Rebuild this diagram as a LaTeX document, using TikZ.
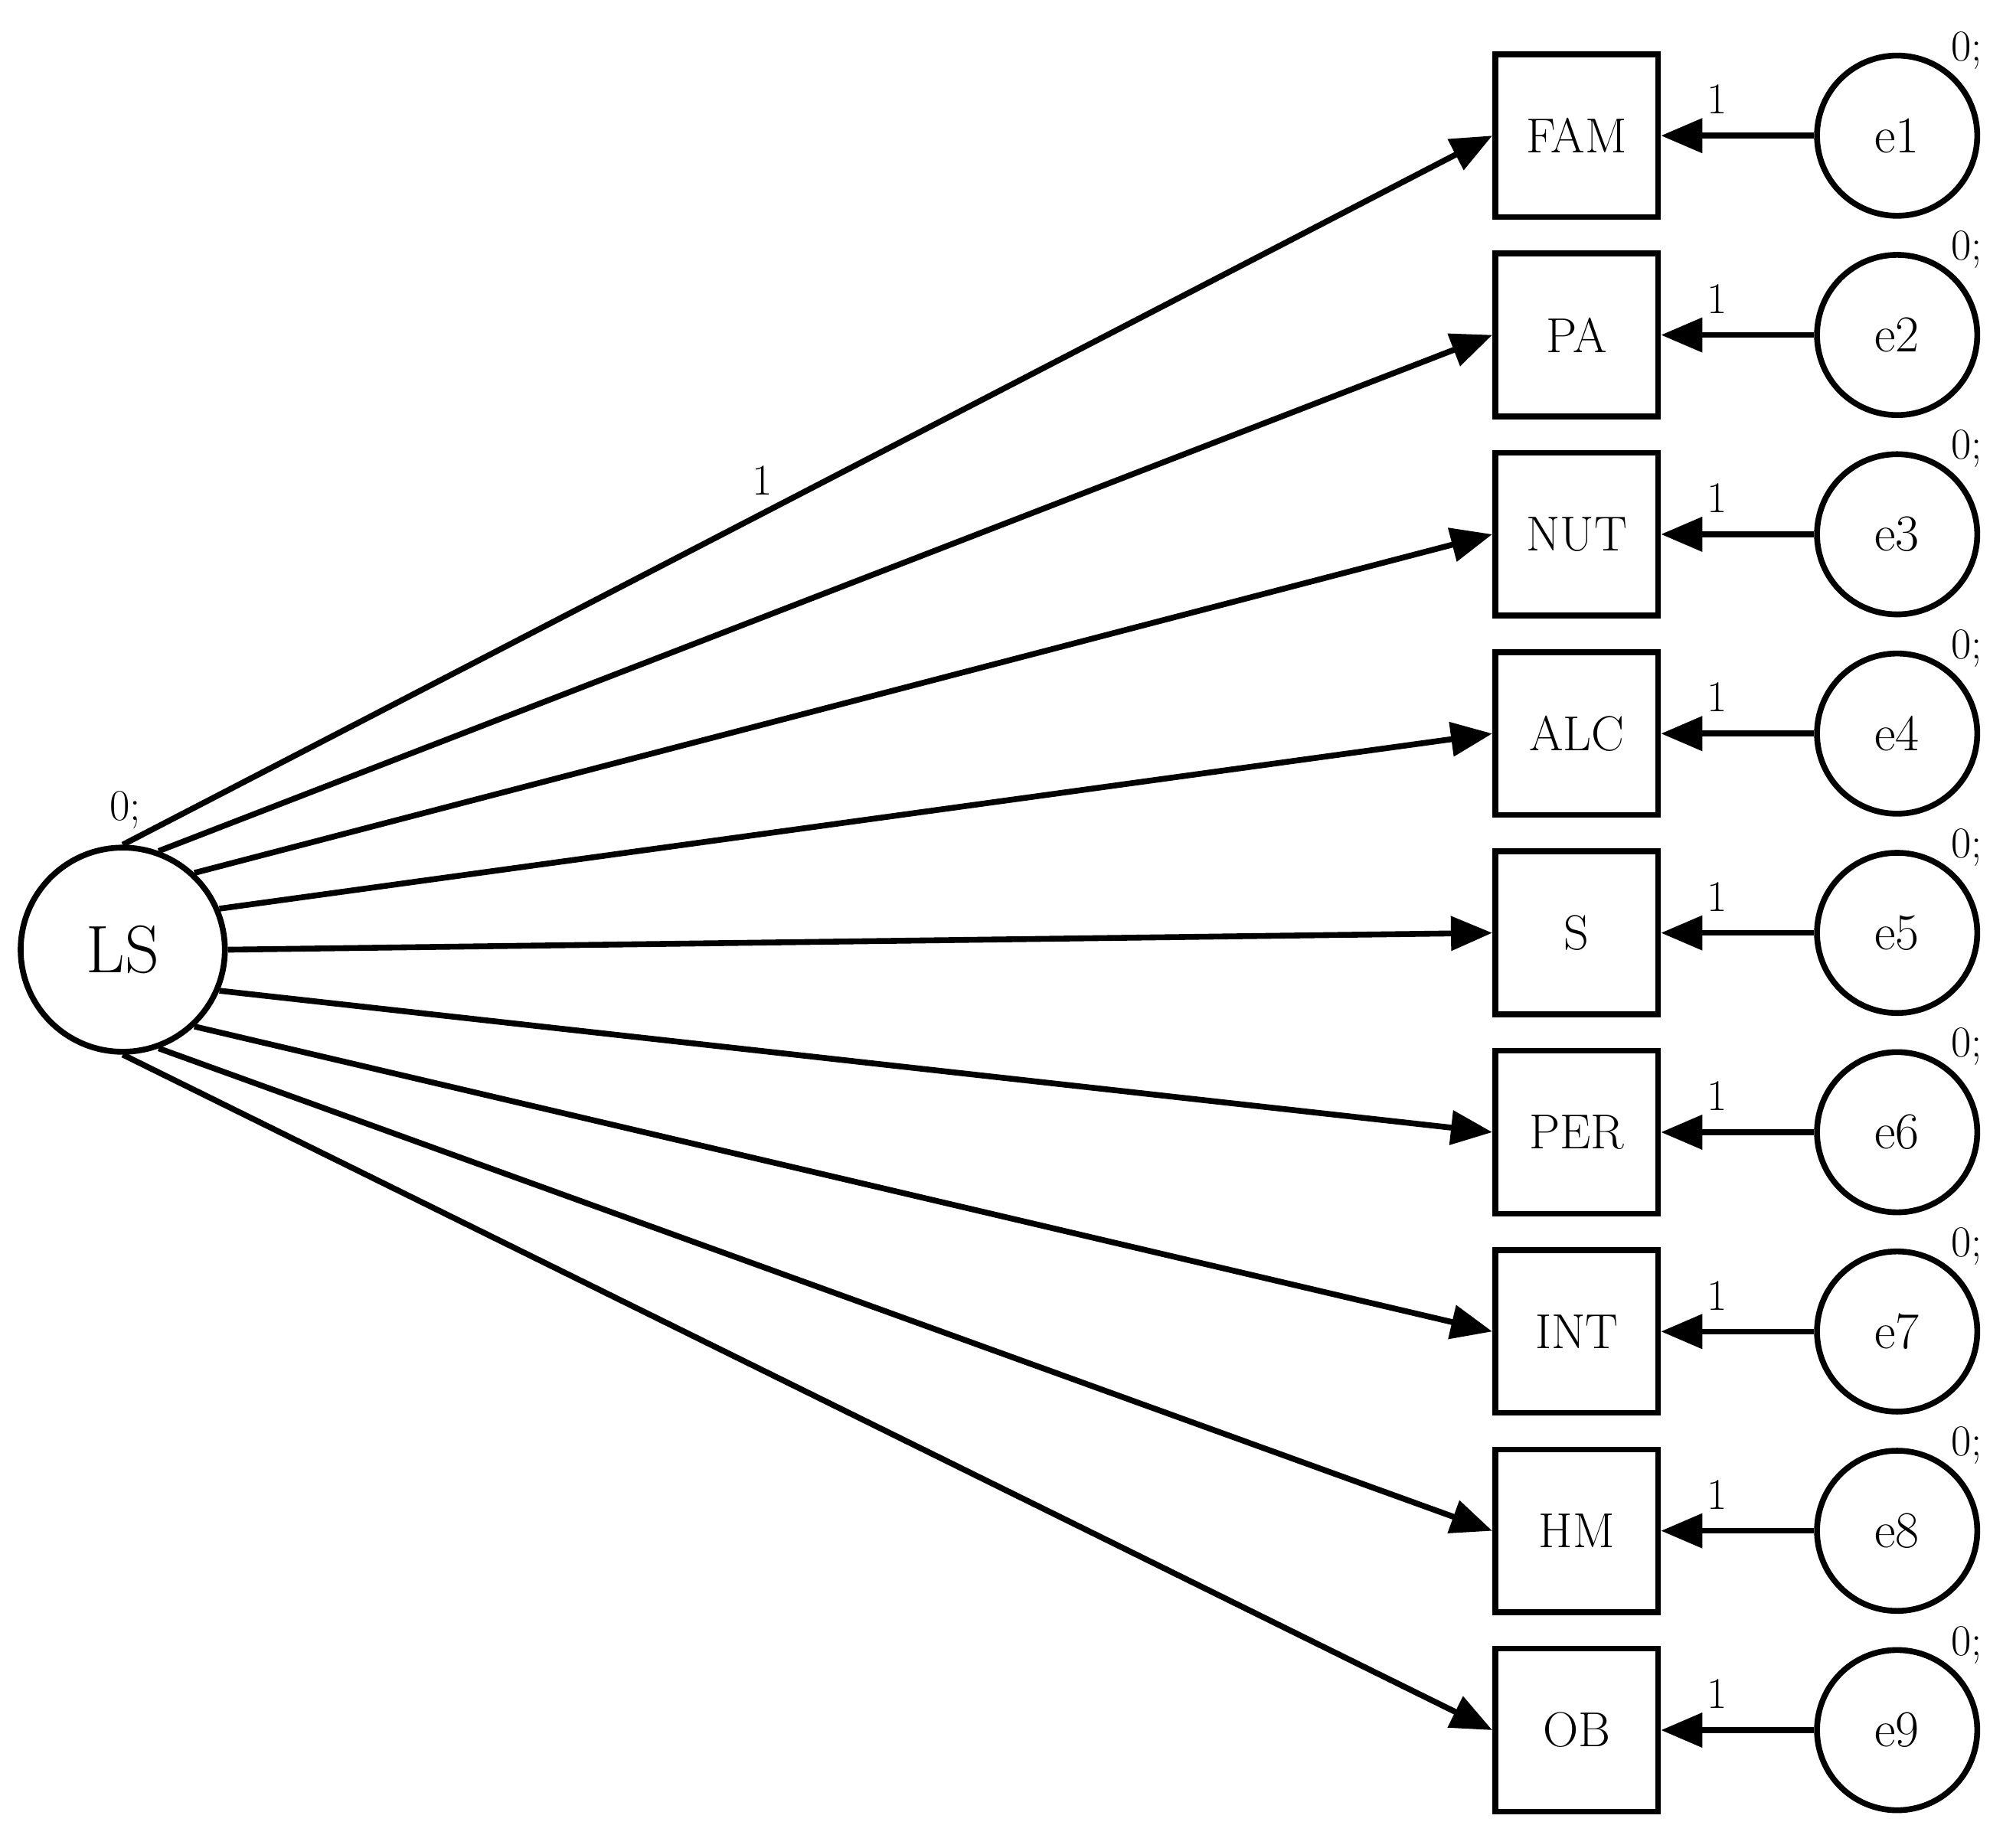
\documentclass[tikz,border=0pt]{standalone}
\usetikzlibrary{arrows.meta}
\begin{document}
\begin{tikzpicture}[x=1pt,y=-1pt,
  box/.style={draw,line width=4.5pt,minimum width=126pt,minimum height=126pt,inner sep=0pt,font=\fontsize{38}{40}\selectfont},
  err/.style={draw,circle,line width=4.5pt,minimum size=124pt,inner sep=0pt,font=\fontsize{40}{42}\selectfont},
  arr/.style={line width=4.5pt,-{Triangle[length=32pt,width=26pt]}},
  lab/.style={font=\fontsize{34}{36}\selectfont,inner sep=0pt}]
\useasboundingbox (0,0) rectangle (1560,1420);
\node[draw,circle,line width=4.5pt,minimum size=158pt,inner sep=0pt,font=\fontsize{52}{54}\selectfont] (LS) at (95,735) {LS};
\node[lab] at (97,627) {0;};
\foreach \n/\t/\a [count=\i from 0] in {1/FAM/90,2/PA/70,3/NUT/47,4/ALC/23,5/S/0,6/PER/-23,7/INT/-47,8/HM/-70,9/OB/-90}{
  \pgfmathsetmacro\yy{105+154.25*\i}
  \node[box] (b\n) at (1220,\yy) {\t};
  \node[err] (e\n) at (1468,\yy) {e\n};
  \node[lab] at (1522,\yy-66) {0;};
  \draw[arr] (e\n) -- (b\n);
  \node[lab] at (1329,\yy-28) {1};
  \draw[arr] (LS.\a) -- (b\n.west);
}
\node[lab] at (590,372) {1};
\end{tikzpicture}
\end{document}
